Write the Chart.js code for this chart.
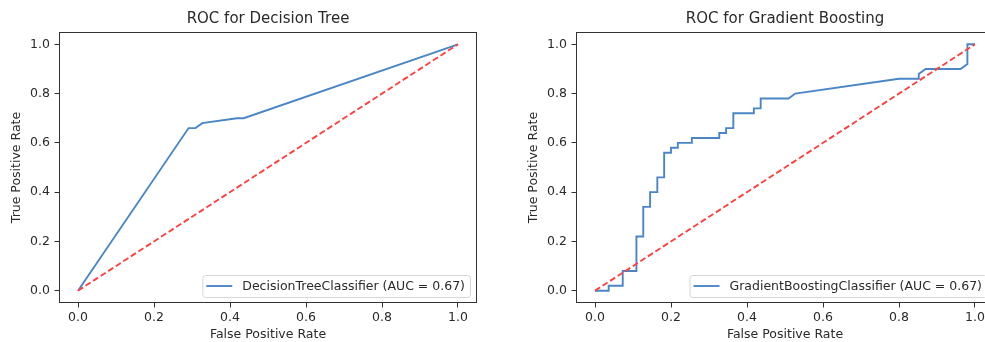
<!DOCTYPE html>
<html>
<head>
<meta charset="utf-8">
<script src="https://cdn.jsdelivr.net/npm/chart.js@4/dist/chart.umd.min.js"></script>
<style>
    html, body { margin: 0; padding: 0; background: #fff; overflow: hidden; width: 985px; height: 342px; }
    .plot { position: absolute; top: 0; width: 490px; height: 342px; }
    #leftPlot { left: 0; }
    #rightPlot { left: 517px; }
</style>
</head>
<body>
<div class="plot" id="leftPlot"><canvas id="treeChart"></canvas></div>
<div class="plot" id="rightPlot"><canvas id="boostChart"></canvas></div>

<script>
// Decision tree ROC vertices
const treeFpr = [0.0, 0.291, 0.309, 0.327, 0.418, 0.436, 1.0];
const treeTpr = [0.0, 0.66, 0.66, 0.68, 0.70, 0.70, 1.0];

// Gradient boosting ROC vertices
const boostFpr = [0.0, 0.036, 0.036, 0.073, 0.073, 0.109, 0.109, 0.127, 0.127, 0.145, 0.145, 0.164, 0.164,
    0.182, 0.182, 0.2, 0.2, 0.218, 0.218, 0.255, 0.255, 0.327, 0.327, 0.345, 0.345, 0.364, 0.364,
    0.418, 0.418, 0.436, 0.436, 0.509, 0.527, 0.8, 0.852, 0.852, 0.87, 0.962, 0.98, 0.98, 1.0];
const boostTpr = [0.0, 0.0, 0.02, 0.02, 0.08, 0.08, 0.22, 0.22, 0.34, 0.34, 0.40, 0.40, 0.46,
    0.46, 0.56, 0.56, 0.58, 0.58, 0.60, 0.60, 0.62, 0.62, 0.64, 0.64, 0.66, 0.66, 0.72,
    0.72, 0.74, 0.74, 0.78, 0.78, 0.80, 0.86, 0.86, 0.88, 0.90, 0.90, 0.92, 1.0, 1.0];

// chance line
const chanceX = [0, 1];
const chanceY = [0, 1];

const tickValues = [0.0, 0.2, 0.4, 0.6, 0.8, 1.0];

const rocColor = "#4a86c6";
const chanceColor = "#ff4040";
const textColor = "#2a2a2a";
const FONT = "'DejaVu Sans', sans-serif";
const SMALL = 12.5;

function toPoints(xs, ys) {
    return xs.map((x, i) => ({ x: x, y: ys[i] }));
}

// axes frame (all four spines)
const framePlugin = {
    id: "frame",
    afterDatasetsDraw(chart) {
        const a = chart.chartArea;
        const ctx = chart.ctx;
        ctx.save();
        ctx.strokeStyle = "#333";
        ctx.lineWidth = 1;
        const l = Math.round(a.left) + 0.5, t = Math.round(a.top) + 0.5;
        const r = Math.round(a.right) - 0.5, b = Math.round(a.bottom) - 0.5;
        ctx.strokeRect(l, t, r - l, b - t);
        ctx.restore();
    }
};

// legend in the lower right corner of the axes
const cornerLegend = {
    id: "cornerLegend",
    afterDraw(chart) {
        const ds = chart.data.datasets[0];
        const a = chart.chartArea;
        const ctx = chart.ctx;
        ctx.save();
        ctx.font = SMALL + "px " + FONT;
        const textW = ctx.measureText(ds.label).width;
        const w = 4 + 26 + 10 + textW + 5;
        const h = 22;
        const right = a.right - 7;
        const bottom = a.bottom - 6;
        const left = right - w;
        const top = bottom - h;
        ctx.beginPath();
        ctx.roundRect(left + 0.5, top + 0.5, w, h, 3);
        ctx.fillStyle = "rgba(255,255,255,0.85)";
        ctx.fill();
        ctx.strokeStyle = "#d6d6d6";
        ctx.lineWidth = 1;
        ctx.stroke();
        const cy = top + h / 2;
        ctx.beginPath();
        ctx.moveTo(left + 4, cy);
        ctx.lineTo(left + 30, cy);
        ctx.strokeStyle = ds.borderColor;
        ctx.lineWidth = ds.borderWidth;
        ctx.stroke();
        ctx.fillStyle = textColor;
        ctx.textBaseline = "middle";
        ctx.textAlign = "left";
        ctx.fillText(ds.label, left + 40, cy + 0.5);
        ctx.restore();
    }
};

function axisOptions(titleText, isX) {
    return {
        type: "linear",
        min: -0.05,
        max: 1.05,
        afterBuildTicks: scale => {
            scale.ticks = tickValues.map(v => ({ value: v }));
        },
        afterFit: scale => {
            if (isX) scale.height = 39;
            else scale.width = 59;
        },
        border: { display: false },
        grid: {
            display: true,
            drawOnChartArea: false,
            drawTicks: true,
            tickLength: 4.5,
            tickWidth: 1,
            color: "#333"
        },
        ticks: {
            color: textColor,
            font: { family: FONT, size: SMALL },
            padding: isX ? 3 : 4.5,
            autoSkip: false,
            maxRotation: 0,
            callback: v => Number(v).toFixed(1)
        },
        title: {
            display: true,
            text: titleText,
            color: textColor,
            font: { family: FONT, size: SMALL },
            padding: isX ? { top: 0, bottom: 0 } : { top: 9.5, bottom: 0 }
        }
    };
}

function renderRoc(canvasId, title, label, fpr, tpr) {
    const ctx = document.getElementById(canvasId).getContext("2d");
    new Chart(ctx, {
        type: "scatter",
        data: {
            datasets: [
                {
                    label: label,
                    data: toPoints(fpr, tpr),
                    showLine: true,
                    borderColor: rocColor,
                    borderWidth: 1.9,
                    pointRadius: 0,
                    tension: 0,
                    order: 2
                },
                {
                    label: "chance",
                    data: toPoints(chanceX, chanceY),
                    showLine: true,
                    borderColor: chanceColor,
                    borderWidth: 1.9,
                    borderDash: [6, 3],
                    pointRadius: 0,
                    order: 1
                }
            ]
        },
        options: {
            responsive: true,
            maintainAspectRatio: false,
            animation: false,
            devicePixelRatio: 1,
            layout: { padding: { left: 0, right: 13, top: 0, bottom: 0 } },
            plugins: {
                legend: { display: false },
                tooltip: { enabled: false },
                title: {
                    display: true,
                    text: title,
                    fullSize: false,
                    color: textColor,
                    font: { family: FONT, size: 15, weight: "normal" },
                    padding: { top: 10, bottom: 4 }
                }
            },
            scales: {
                x: axisOptions("False Positive Rate", true),
                y: axisOptions("True Positive Rate", false)
            }
        },
        plugins: [framePlugin, cornerLegend]
    });
}

renderRoc("treeChart", "ROC for Decision Tree", "DecisionTreeClassifier (AUC = 0.67)", treeFpr, treeTpr);
renderRoc("boostChart", "ROC for Gradient Boosting", "GradientBoostingClassifier (AUC = 0.67)", boostFpr, boostTpr);
</script>
</body>
</html>
